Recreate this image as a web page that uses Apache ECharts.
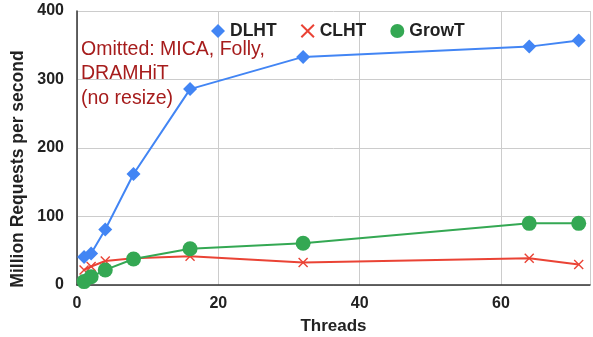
<!DOCTYPE html>
<html>
<head>
<meta charset="UTF-8">
<title>Throughput vs Threads</title>
<script src="https://cdn.jsdelivr.net/npm/echarts@6/dist/echarts.min.js"></script>
<style>
html, body { margin: 0; padding: 0; background: #fff; }
#chart { width: 593px; height: 337px; }
</style>
</head>
<body>
<div id="chart"></div>
<script>
const threads = [1, 2, 4, 8, 16, 32, 64, 71];
const dlht = [41, 46, 81, 162, 286, 333, 348, 357];
const clht = [22, 27, 35, 39, 42, 33, 39, 30];
const growt = [5, 12, 22, 38, 53, 61, 90, 90];
const yTicks = [0, 100, 200, 300, 400];
const xTicks = [0, 20, 40, 60];

const crossPath = 'path://M0,1L1,0L5,4L9,0L10,1L6,5L10,9L9,10L5,6L1,10L0,9L4,5Z';
const font = 'Liberation Sans, Arial, sans-serif';

const pairs = vals => threads.map((t, i) => [t, vals[i]]);

const chart = echarts.init(document.getElementById('chart'));
chart.setOption({
animation: false,
textStyle: { fontFamily: font },
grid: { left: 77, right: 3, top: 11, bottom: 52, outerBoundsMode: 'none', containLabel: false },
legend: {
top: 17,
left: 206,
itemWidth: 14,
itemHeight: 14,
itemGap: 24,
textStyle: { fontSize: 17.5, fontWeight: 'bold', color: '#222' },
data: [
{ name: 'DLHT', icon: 'diamond' },
{ name: 'CLHT', icon: crossPath, itemStyle: { borderWidth: 0 } },
{ name: 'GrowT', icon: 'circle' }
]
},
graphic: [{
type: 'text',
left: 81,
top: 37,
style: {
text: 'Omitted: MICA, Folly,\nDRAMHiT\n(no resize)',
fill: '#a61c1c',
fontSize: 19.5,
lineHeight: 24.5,
fontFamily: font
}
}, {
type: 'text',
x: 18,
y: 169,
rotation: Math.PI / 2,
style: {
text: 'Million Requests per second',
fill: '#222',
fontSize: 17.5,
fontWeight: 'bold',
align: 'center',
verticalAlign: 'middle',
fontFamily: font
}
}],
xAxis: {
type: 'value',
min: 0,
max: 72.6,
interval: 20,
name: 'Threads',
nameLocation: 'middle',
nameGap: 33,
nameTextStyle: { fontSize: 17, fontWeight: 'bold', color: '#222' },
axisLine: { lineStyle: { color: '#333', width: 1.5 } },
axisTick: { show: false },
axisLabel: {
fontSize: 16, fontWeight: 'bold', color: '#222', margin: 11,
showMaxLabel: false,
formatter: v => xTicks.includes(v) ? String(v) : ''
},
splitLine: { show: true, lineStyle: { color: '#ccc' } }
},
yAxis: {
type: 'value',
min: 0,
max: 400,
interval: 100,
axisLine: { show: true, lineStyle: { color: '#333', width: 1.5 } },
axisTick: { show: false },
axisLabel: {
fontSize: 16, fontWeight: 'bold', color: '#222', margin: 13,
formatter: v => yTicks.includes(v) ? String(v) : ''
},
splitLine: { show: true, lineStyle: { color: '#ccc' } }
},
series: [{
name: 'DLHT',
type: 'line',
data: pairs(dlht),
symbol: 'diamond',
symbolSize: 14,
lineStyle: { color: '#4285f4', width: 2 },
itemStyle: { color: '#4285f4' },
z: 3
}, {
name: 'CLHT',
type: 'line',
data: pairs(clht),
symbol: crossPath,
symbolSize: 10,
lineStyle: { color: '#ea4335', width: 2 },
itemStyle: { color: '#ea4335' },
z: 2
}, {
name: 'GrowT',
type: 'line',
data: pairs(growt),
symbol: 'circle',
symbolSize: 15,
lineStyle: { color: '#34a853', width: 2 },
itemStyle: { color: '#34a853' },
z: 4
}]
});
</script>
</body>
</html>
